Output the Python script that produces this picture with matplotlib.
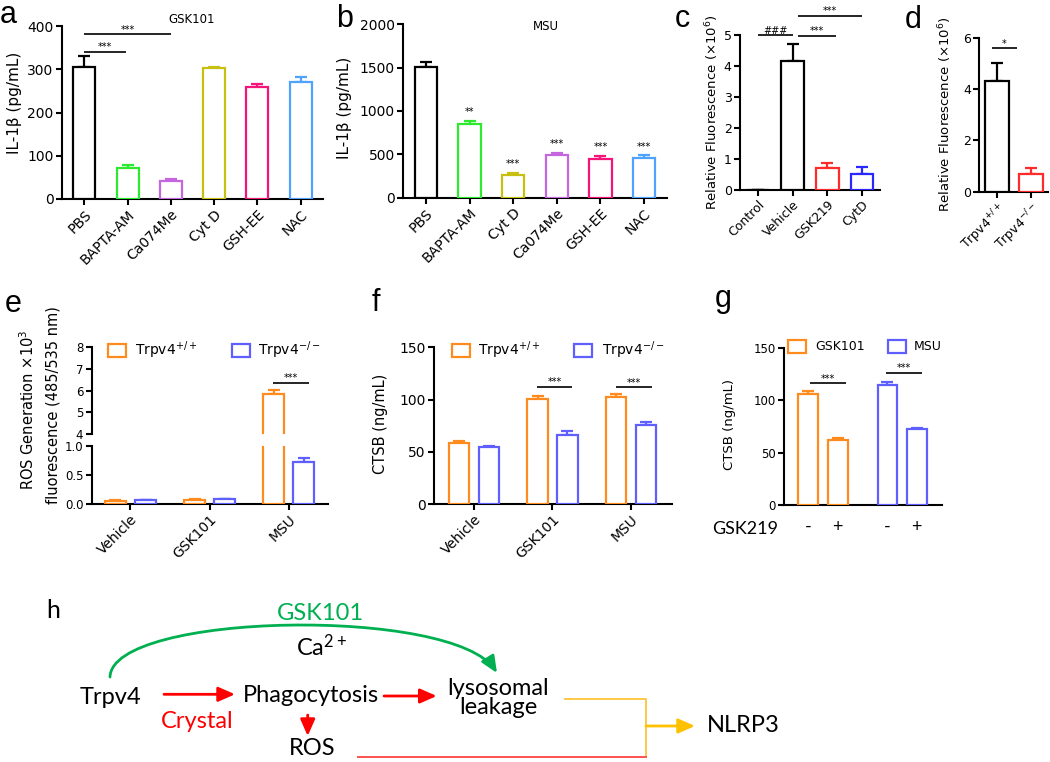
import matplotlib
matplotlib.use('Agg')
import matplotlib.pyplot as plt
from matplotlib.patches import Rectangle, FancyArrowPatch
from matplotlib.path import Path

plt.rcParams['font.family'] = ['DejaVu Sans']
plt.rcParams['mathtext.default'] = 'regular'

W, H = 1050, 762

# a: IL-1β after GSK101
a_labels = ['PBS', 'BAPTA-AM', 'Ca074Me', 'Cyt D', 'GSH-EE', 'NAC']
a_vals = [305, 72, 41, 302, 258, 271]
a_err = [25, 6, 5, 4, 9, 12]
a_colors = ['black', '#2EEA2E', '#C566E0', '#C8C010', '#F5157A', '#4FA3FF']

# b: IL-1β after MSU
b_labels = ['PBS', 'BAPTA-AM', 'Cyt D', 'Ca074Me', 'GSH-EE', 'NAC']
b_vals = [1512, 846, 265, 492, 450, 458]
b_err = [57, 39, 20, 23, 31, 30]
b_colors = ['black', '#2EEA2E', '#C8C010', '#C566E0', '#F5157A', '#4FA3FF']
b_stars = ['', '**', '***', '***', '***', '***']

# c / d: relative fluorescence (x10^6)
c_labels = ['Control', 'Vehicle', 'GSK219', 'CytD']
c_vals = [0, 4.16, 0.70, 0.52]
c_err = [0, 0.54, 0.17, 0.22]
c_colors = ['black', 'black', '#FF2A2A', '#2828FF']

d_labels = ['Trpv4$^{+/+}$', 'Trpv4$^{-/-}$']
d_vals = [4.31, 0.69]
d_err = [0.69, 0.25]
d_colors = ['black', '#FF2A2A']

# e: ROS generation
e_groups = ['Vehicle', 'GSK101', 'MSU']
e_wt = [0.057, 0.074, 5.83]
e_wt_err = [0.005, 0.006, 0.19]
e_ko = [0.063, 0.086, 0.726]
e_ko_err = [0.005, 0.006, 0.064]

# f: CTSB
f_groups = ['Vehicle', 'GSK101', 'MSU']
f_wt = [58.1, 100.5, 102.1]
f_wt_err = [2.5, 2.9, 2.9]
f_ko = [54.3, 65.7, 75.6]
f_ko_err = [1.2, 4.2, 2.6]

# g: CTSB with GSK219
g_stim = ['GSK101', 'GSK101', 'MSU', 'MSU']
g_signs = ['-', '+', '-', '+']
g_vals = [105.5, 62.3, 114.7, 72.1]
g_err = [2.9, 1.6, 2.6, 1.0]

ORANGE = '#FF8A1E'
BLUE = '#5F5FFF'

fig = plt.figure(figsize=(W / 100, H / 100), dpi=100)


def px_axes(l, t, r, b):
    return fig.add_axes([l / W, 1 - b / H, (r - l) / W, (b - t) / H])


def style(ax, size=10):
    ax.spines['top'].set_visible(False)
    ax.spines['right'].set_visible(False)
    ax.spines['left'].set_linewidth(1.5)
    ax.spines['bottom'].set_linewidth(1.5)
    ax.tick_params(width=1.5, length=4, labelsize=size, pad=2)


def hollow_bars(ax, x, vals, errs, colors, width):
    ax.bar(x, vals, width, facecolor='white', edgecolor=colors, linewidth=1.6, zorder=3)
    for xi, v, e, c in zip(x, vals, errs, colors):
        ax.errorbar(xi, v, yerr=[[0], [e]], fmt='none', ecolor=c, elinewidth=1.6,
                    capsize=4, capthick=1.6, zorder=2)


def sig(ax, x0, x1, y, text='***', size=7):
    ax.plot([x0, x1], [y, y], color='black', lw=1.2, solid_capstyle='butt', clip_on=False)
    ax.annotate(text, ((x0 + x1) / 2, y), xytext=(0, 1), textcoords='offset points',
                ha='center', va='baseline', fontsize=size, annotation_clip=False)


def rot_labels(ax, x, labels, size=10):
    ax.set_xticks(list(x))
    ax.set_xticklabels(labels, rotation=45, ha='right', rotation_mode='anchor', fontsize=size)


# ---- a ----
ax = px_axes(62, 26, 323, 199)
xa = range(len(a_labels))
hollow_bars(ax, xa, a_vals, a_err, a_colors, 0.51)
ax.set_xlim(-0.52, 5.52)
ax.set_ylim(0, 400)
ax.set_yticks([0, 100, 200, 300, 400])
style(ax)
rot_labels(ax, xa, a_labels)
sig(ax, 0, 0.96, 341)
sig(ax, 0, 2, 381)

# ---- b ----
ax = px_axes(403.3, 24.3, 666.7, 197.7)
xb = range(len(b_labels))
hollow_bars(ax, xb, b_vals, b_err, b_colors, 0.51)
ax.set_xlim(-0.52, 5.52)
ax.set_ylim(0, 2000)
ax.set_yticks([0, 500, 1000, 1500, 2000])
style(ax)
rot_labels(ax, xb, b_labels)
for xi, v, e, s in zip(xb, b_vals, b_err, b_stars):
    if s:
        ax.annotate(s, (xi, v + e), xytext=(0, 4), textcoords='offset points',
                    ha='center', va='baseline', fontsize=7)

# ---- c ----
ax = px_axes(740, 35, 880, 190)
xc = range(len(c_labels))
hollow_bars(ax, xc, c_vals, c_err, c_colors, 0.66)
ax.set_xlim(-0.52, 3.52)
ax.set_ylim(0, 5)
ax.set_yticks([0, 1, 2, 3, 4, 5])
style(ax, 9)
rot_labels(ax, xc, c_labels, 9)
sig(ax, 0, 1.02, 5.0, '###')
sig(ax, 1.15, 2.25, 4.98)
sig(ax, 1.15, 3.0, 5.62)

# ---- d ----
ax = px_axes(979.3, 37.7, 1048, 191.7)
xd = range(len(d_labels))
hollow_bars(ax, xd, d_vals, d_err, d_colors, 0.7)
ax.set_xlim(-0.51, 1.51)
ax.set_ylim(0, 6)
ax.set_yticks([0, 2, 4, 6])
style(ax, 9)
rot_labels(ax, xd, d_labels, 9)
sig(ax, -0.15, 0.6, 5.58, '*')

# ---- e (broken axis) ----
xe = list(range(len(e_groups)))
e_lo = px_axes(91.7, 445.7, 328.3, 504)
e_hi = px_axes(91.7, 347.3, 328.3, 434)
for ax in (e_lo, e_hi):
    hollow_bars(ax, [x - 0.19 for x in xe], e_wt, e_wt_err, [ORANGE] * 3, 0.26)
    hollow_bars(ax, [x + 0.19 for x in xe], e_ko, e_ko_err, [BLUE] * 3, 0.26)
    ax.set_xlim(-0.49, 2.5)
    style(ax)
    ax.tick_params(axis='y', labelsize=8.5)
e_lo.set_ylim(0, 1)
e_lo.set_yticks([0, 0.5, 1.0])
e_lo.set_yticklabels(['0.0', '0.5', '1.0'])
rot_labels(e_lo, xe, e_groups)
e_hi.set_ylim(4, 8)
e_hi.set_yticks([4, 5, 6, 7, 8])
e_hi.spines['bottom'].set_visible(False)
e_hi.set_xticks([])
sig(e_hi, 1.8, 2.25, 6.37)

# ---- f ----
ax = px_axes(434, 347.3, 671.7, 504)
xf = list(range(len(f_groups)))
hollow_bars(ax, [x - 0.19 for x in xf], f_wt, f_wt_err, [ORANGE] * 3, 0.26)
hollow_bars(ax, [x + 0.19 for x in xf], f_ko, f_ko_err, [BLUE] * 3, 0.26)
ax.set_xlim(-0.51, 2.52)
ax.set_ylim(0, 150)
ax.set_yticks([0, 50, 100, 150])
style(ax)
rot_labels(ax, xf, f_groups)
sig(ax, 0.8, 1.25, 112.3)
sig(ax, 1.81, 2.27, 111.7)

# ---- g ----
ax = px_axes(784.3, 347.7, 941.7, 505)
xg = [0, 1, 2.7, 3.7]
g_colors = [ORANGE if s == 'GSK101' else BLUE for s in g_stim]
hollow_bars(ax, xg, g_vals, g_err, g_colors, 0.68)
ax.set_xlim(-0.82, 4.55)
ax.set_ylim(0, 150)
ax.set_yticks([0, 50, 100, 150])
style(ax, 8.5)
ax.set_xticks(xg)
ax.set_xticklabels(g_signs, fontsize=13, family='Lato')
ax.tick_params(axis='x', length=0, pad=10)
sig(ax, 0.05, 1.28, 116)
sig(ax, 2.66, 3.87, 126.2)

# ---- overlay: letters, labels, legends, scheme ----
ov = fig.add_axes([0, 0, 1, 1])
ov.set_xlim(0, W)
ov.set_ylim(H, 0)
ov.axis('off')
ov.patch.set_visible(False)

for s, x, y in [('a', 0, 23), ('b', 336, 27), ('c', 675, 27), ('d', 905, 28),
                ('e', 5, 312), ('f', 372, 311), ('g', 715, 307)]:
    ov.text(x, y, s, fontsize=22, family='Liberation Sans', ha='left', va='baseline')

ov.text(192, 19.5, 'GSK101', fontsize=8.5, ha='center', va='center')
ov.text(546, 27, 'MSU', fontsize=8.5, ha='center', va='center')

ylabels = [('IL-1β (pg/mL)', 15, 103, 11), ('IL-1β (pg/mL)', 345, 108, 11),
           ('Relative Fluorescence (×10$^6$)', 712, 112, 9.5),
           ('Relative Fluorescence (×10$^6$)', 945, 114, 9.5),
           ('ROS Generation ×10$^3$', 28, 410, 10.5),
           ('fluorescence (485/535 nm)', 53, 405, 10.5),
           ('CTSB (ng/mL)', 380, 424, 10.5), ('CTSB (ng/mL)', 729, 424, 9.5)]
for t, x, y, fs in ylabels:
    ov.text(x, y, t, rotation=90, ha='center', va='center', fontsize=fs)

legends = [(108, 344, 135, 231.7, 258, 'Trpv4$^{+/+}$', 'Trpv4$^{-/-}$', 10),
           (452.3, 344, 478.3, 574.3, 601.7, 'Trpv4$^{+/+}$', 'Trpv4$^{-/-}$', 10),
           (788.3, 340, 815, 888.3, 914, 'GSK101', 'MSU', 9)]
for x1, y, t1, x2, t2, l1, l2, fs in legends:
    ov.add_patch(Rectangle((x1, y), 18, 13, fill=False, edgecolor=ORANGE, lw=1.6))
    ov.add_patch(Rectangle((x2, y), 18, 13, fill=False, edgecolor=BLUE, lw=1.6))
    ov.text(t1, y + 6.5, l1, fontsize=fs, va='center', ha='left')
    ov.text(t2, y + 6.5, l2, fontsize=fs, va='center', ha='left')

ov.text(745, 529, 'GSK219', fontsize=13, family='Lato', ha='center', va='center')

# h: scheme
ov.text(46, 618, 'h', fontsize=18, family='Lato', ha='left', va='baseline')
dfont = dict(fontsize=17, family='Lato', ha='center', va='center')
ov.text(320, 614, 'GSK101', color='#00B050', **dfont)
ov.text(322, 647, 'Ca$^{2+}$', **dfont)
ov.text(110.8, 697.5, 'Trpv4', **dfont)
ov.text(311, 695, 'Phagocytosis', **dfont)
ov.text(197, 721.5, 'Crystal', color='red', **dfont)
ov.text(311.7, 748.5, 'ROS', **dfont)
ov.text(498, 698, 'lysosomal\nleakage', linespacing=0.92, **dfont)
ov.text(743, 726, 'NLRP3', **dfont)

head = '-|>,head_length=0.5,head_width=0.22'
arc = Path([(110, 677), (112, 612), (455, 606), (497, 673)],
           [Path.MOVETO, Path.CURVE4, Path.CURVE4, Path.CURVE4])
ov.add_patch(FancyArrowPatch(path=arc, arrowstyle=head, mutation_scale=20,
                             color='#00B050', lw=2))
for (x0, y0), (x1, y1) in [((164, 694.3), (235, 694.3)),
                           ((384, 696), (436.7, 696)),
                           ((307.7, 715), (307.7, 736))]:
    ov.annotate('', xy=(x1, y1), xytext=(x0, y0),
                arrowprops=dict(arrowstyle=head, mutation_scale=20, color='red', lw=2,
                                shrinkA=0, shrinkB=0))
ov.plot([565, 646, 646], [699, 699, 756.7], color='#FFC84A', lw=1.4)
ov.plot([358, 646], [756.7, 756.7], color='#FF5050', lw=1.4)
ov.annotate('', xy=(695, 726), xytext=(646, 726),
            arrowprops=dict(arrowstyle=head, mutation_scale=20, color='#FFC000', lw=2,
                            shrinkA=0, shrinkB=0))

fig.savefig('out.png', dpi=100)
